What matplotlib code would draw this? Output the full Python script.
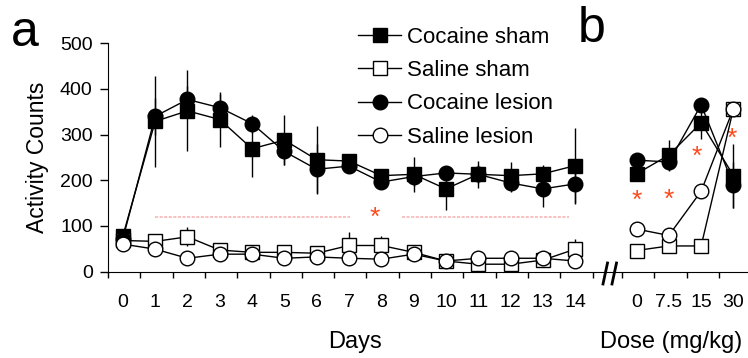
import numpy as np
import matplotlib
matplotlib.use("Agg")
import matplotlib.pyplot as plt
from matplotlib.lines import Line2D

plt.rcParams['font.family'] = ['Liberation Sans', 'DejaVu Sans']

# panel a: days
days = list(range(15))
coc_sham = [78, 329, 352, 333, 269, 288, 245, 242, 210, 213, 181, 213, 210, 214, 232]
coc_sham_err = [8, 100, 89, 60, 62, 55, 73, 15, 15, 38, 47, 30, 30, 20, 82]
sal_sham = [68, 66, 76, 47, 42, 42, 40, 57, 57, 42, 23, 16, 16, 25, 49]
sal_sham_err = [8, 6, 21, 6, 6, 5, 6, 30, 20, 6, 5, 4, 4, 5, 22]
coc_les = [72, 340, 377, 359, 324, 263, 224, 231, 196, 208, 216, 213, 194, 181, 192]
coc_les_err = [10, 40, 30, 30, 20, 30, 55, 15, 15, 20, 15, 20, 20, 40, 45]
sal_les = [60, 49, 29, 38, 38, 29, 32, 29, 27, 38, 23, 29, 29, 29, 23]
sal_les_err = [12, 5, 4, 4, 14, 4, 4, 4, 4, 4, 4, 4, 4, 4, 4]

# panel b: dose
doses = ['0', '7.5', '15', '30']
b_coc_sham = [214, 255, 326, 210]
b_coc_sham_err = [12, 33, 35, 70]
b_sal_sham = [46, 56, 56, 357]
b_sal_sham_err = [12, 12, 10, 10]
b_coc_les = [244, 240, 365, 190]
b_coc_les_err = [10, 20, 15, 50]
b_sal_les = [93, 79, 176, 357]
b_sal_les_err = [5, 5, 6, 8]

series = [
    ('Cocaine sham', 's', 'black', coc_sham, coc_sham_err, b_coc_sham, b_coc_sham_err),
    ('Saline sham', 's', 'white', sal_sham, sal_sham_err, b_sal_sham, b_sal_sham_err),
    ('Cocaine lesion', 'o', 'black', coc_les, coc_les_err, b_coc_les, b_coc_les_err),
    ('Saline lesion', 'o', 'white', sal_les, sal_les_err, b_sal_les, b_sal_les_err),
]

fig = plt.figure(figsize=(7.48, 3.58), dpi=100)
ax = fig.add_axes([0.1444, 0.2416, 0.8556, 0.6374])

xa = np.array(days, dtype=float)
xb = 15.9 + np.arange(len(doses))

handles = []
for k, (name, mk, fc, ya, ea, yb, eb) in enumerate(series):
    for x, y, e in ((xa, ya, ea), (xb, yb, eb)):
        ax.errorbar(x, y, yerr=e, fmt='none', ecolor='black', elinewidth=1, capsize=0, zorder=2 + k)
        ax.plot(x, y, color='black', lw=1, marker=mk, ms=10.5, mfc=fc, mec='black', mew=1,
                zorder=3 + k, clip_on=False)
    handles.append(Line2D([], [], color='black', lw=1, marker=mk, ms=10.5, mfc=fc, mec='black', mew=1))

# significance lines and stars
red_line = '#f7b0b0'
star_c = '#ff4a1c'
ax.plot([1, 7.03], [119, 119], color=red_line, lw=1.1, ls=(0, (2, 1)))
ax.plot([8.65, 13.8], [119, 119], color=red_line, lw=1.1, ls=(0, (2, 1)))
star_x = [7.8, xb[0], xb[1], xb[2] - 0.15, xb[3] - 0.05]
star_y = [118, 155, 157, 251, 291]
for sx, sy in zip(star_x, star_y):
    ax.text(sx, sy, '*', color=star_c, fontsize=19, ha='center', va='center')

ax.set_xlim(-0.46, 19.35)
ax.set_ylim(0, 500)
ax.spines['top'].set_visible(False)
ax.spines['right'].set_visible(False)
ax.spines['left'].set_bounds(0, 500)
ax.set_yticks([0, 100, 200, 300, 400, 500])
ax.tick_params(axis='y', direction='out', length=6, width=1, labelsize=14, pad=5)

bounds = list(np.arange(16) - 0.46) + list(xb - 0.45)
ax.set_xticks(bounds)
ax.set_xticklabels([''] * len(bounds))
ax.tick_params(axis='x', which='major', direction='out', length=4, width=1)
ax.set_xticks(list(xa) + list(xb), [str(d) for d in days] + doses, minor=True)
ax.tick_params(axis='x', which='minor', length=0, labelsize=14, pad=16)

# axis break
for dx in (0, 9):
    fig.add_artist(Line2D([(603 + dx) / 748, (607.5 + dx) / 748],
                          [1 - 284 / 358, 1 - 263 / 358], color='black', lw=2))

ax.set_ylabel('Activity Counts', fontsize=16.5, labelpad=8)
fig.text(355 / 748, 1 - 342 / 358, 'Days', fontsize=17, ha='center', va='center')
fig.text(671 / 748, 1 - 342 / 358, 'Dose (mg/kg)', fontsize=17, ha='center', va='center')
fig.text(25 / 748, 1 - 33 / 358, 'a', fontsize=36, ha='center', va='center')
fig.text(592 / 748, 1 - 29 / 358, 'b', fontsize=36, ha='center', va='center')

fig.legend(handles, [s[0] for s in series], loc='upper left', bbox_to_anchor=(358 / 748, 1 - 27 / 358),
           frameon=False, fontsize=16, handlelength=1.95, handletextpad=0.25, labelspacing=0.55,
           borderpad=0, borderaxespad=0)

fig.savefig('out.png', dpi=100)
